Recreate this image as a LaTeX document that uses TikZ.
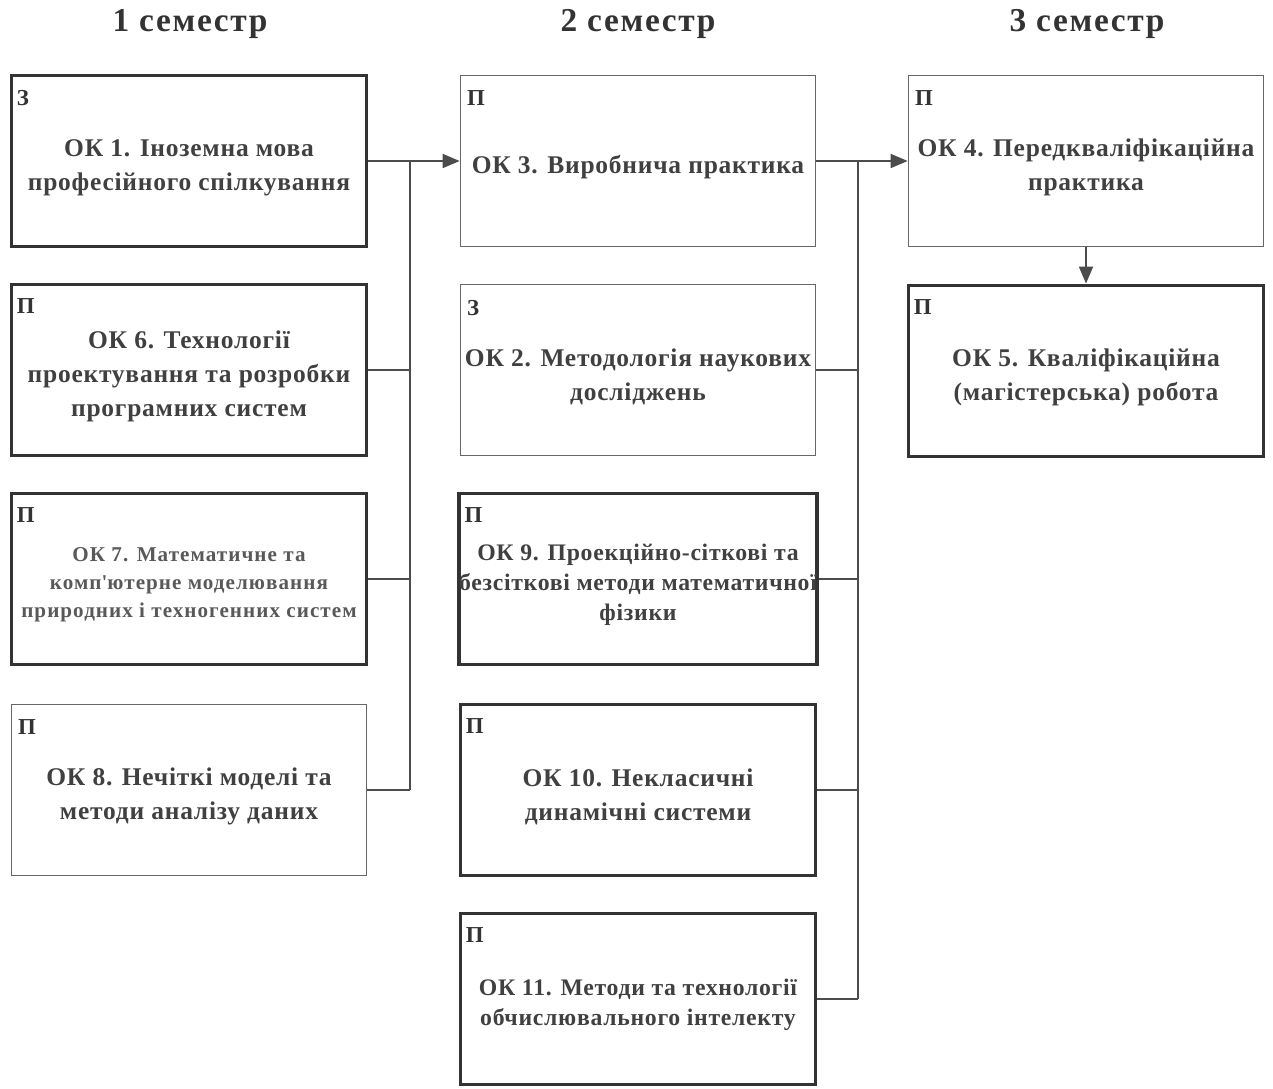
\documentclass[tikz,border=0pt]{standalone}
\usepackage{fontspec}
\setmainfont{Liberation Serif}
\usetikzlibrary{positioning,arrows.meta}
\newcommand\firstline{\rule{0pt}{1.2em}}

\begin{document}
\begin{tikzpicture}[x=0.02cm,y=-0.02cm,
  course/.style={draw=black!80,line width=2.2pt,minimum width=7.1cm,minimum height=3.42cm,
    inner sep=0pt,align=center,text=black!75,
    font=\bfseries\fontsize{14.5}{19.3}\selectfont\addfontfeatures{LetterSpace=3}},
  plainbox/.style={draw=black!60,line width=1pt},
  smalltext/.style={font=\bfseries\fontsize{13.5}{17}\selectfont\addfontfeatures{LetterSpace=3}},
  tinytext/.style={font=\bfseries\fontsize{12}{15.9}\selectfont\addfontfeatures{LetterSpace=5},text=black!65},
  kind/.style={anchor=north west,inner sep=0pt,text=black!80,font=\bfseries\fontsize{13}{15}\selectfont},
  sem/.style={text=black!80,font=\bfseries\fontsize{19}{21}\selectfont\addfontfeatures{LetterSpace=5}},
  link/.style={draw=black!70,line width=1pt},
  tip/.style={-{Triangle[length=0.34cm,width=0.28cm]}}]
\useasboundingbox (0,0) rectangle (1273,1088);

% semester headers
\node[sem] (s1) at (190,24) {1 семестр};
\node[sem] (s2) at (638,24) {2 семестр};
\node[sem] (s3) at (1087,24) {3 семестр};

% 1 semester
\node[course] (ok1) at (189,161) {\firstline ОК 1. Іноземна мова\\професійного спілкування};
\node[course] (ok6) at (189,370) {\firstline ОК 6. Технології\\проектування та розробки\\програмних систем};
\node[course,tinytext] (ok7) at (189,579) {\firstline ОК 7. Математичне та\\комп\textquotesingle ютерне моделювання\\природних і техногенних систем};
\node[course,plainbox] (ok8) at (189,790) {\firstline ОК 8. Нечіткі моделі та\\методи аналізу даних};

% 2 semester
\node[course,plainbox] (ok3) at (638,161) {\firstline ОК 3. Виробнича практика};
\node[course,plainbox] (ok2) at (638,370) {\firstline ОК 2. Методологія наукових\\досліджень};
\node[course,smalltext] (ok9) at (638,579) {\firstline ОК 9. Проекційно-сіткові та\\безсіткові методи математичної\\фізики};
\node[course] (ok10) at (638,790) {\firstline ОК 10. Некласичні\\динамічні системи};
\node[course,smalltext] (ok11) at (638,999) {\firstline ОК 11. Методи та технології\\обчислювального інтелекту};

% 3 semester
\node[course,plainbox] (ok4) at (1086,161) {\firstline ОК 4. Передкваліфікаційна\\практика};
\node[course] (ok5) at (1086,371) {\firstline ОК 5. Кваліфікаційна\\(магістерська) робота};

% control type
\foreach \B/\K in {ok1/З,ok6/П,ok7/П,ok8/П,ok3/П,ok2/З,ok9/П,ok10/П,ok11/П,ok4/П,ok5/П}
  \node[kind] (k-\B) at ([shift={(7,16)}]\B.north west) {\K};

% connectors
\coordinate (bus1) at (410,161);
\coordinate (bus2) at (858,161);
\draw[link,tip] (ok1.east) -- (ok3.west);
\foreach \B in {ok6,ok7,ok8}
  \draw[link] (\B.east) -- (\B.east -| bus1);
\draw[link] (bus1) -- (ok8.east -| bus1);
\draw[link,tip] (ok3.east) -- (ok4.west);
\foreach \B in {ok2,ok9,ok10,ok11}
  \draw[link] (\B.east) -- (\B.east -| bus2);
\draw[link] (bus2) -- (ok11.east -| bus2);
\draw[link,tip] (ok4) -- (ok5);
\end{tikzpicture}
\end{document}
